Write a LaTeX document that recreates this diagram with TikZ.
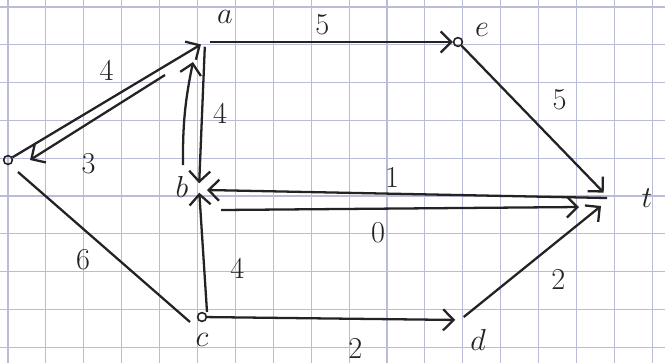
\documentclass[tikz,border=0pt]{standalone}
\usepackage{amsmath,amssymb}
\usepackage{xcolor}
\usepackage{tikz}
\usetikzlibrary{arrows.meta,positioning,calc}

\definecolor{paperline}{RGB}{184,188,216}
\definecolor{pen}{RGB}{35,35,35}

\begin{document}
\begin{tikzpicture}[x=0.02cm, y=-0.02cm,
    vtx/.style={circle, inner sep=0pt, minimum size=5pt},
    dot/.style={vtx, draw=pen, line width=0.9pt},
    edge/.style={line width=1.3pt, pen, -{Straight Barb[length=6pt,width=12pt]}},
    plain/.style={line width=1.3pt, pen},
    lbl/.style={font=\LARGE, text=pen, inner sep=1pt}]
  \useasboundingbox (0,0) rectangle (665,363);
  \fill[white] (0,0) rectangle (665,363);

  % Grid paper
  \foreach \i in {0,...,17}
    \draw[paperline, line width=0.6pt] ({8+37.9*\i},0) -- ({8+37.9*\i},363);
  \foreach \j in {0,...,9}
    \draw[paperline, line width=0.6pt] (0,{7+37.8*\j}) -- (665,{7+37.8*\j});

  % Vertices
  \node[dot] (s) at (8,160) {};
  \node[vtx] (a) at (205,42) {};
  \node[dot] (e) at (458,42) {};
  \node[vtx] (b) at (199,188) {};
  \node[vtx] (t) at (607,196) {};
  \node[dot] (c) at (202,317) {};
  \node[vtx] (d) at (460,320) {};

  % Vertex names
  \node[lbl] at ([shift={(20,-25)}]a) {$a$};
  \node[lbl] at ([shift={(24,-12)}]e) {$e$};
  \node[lbl] at ([shift={(-17,-1)}]b) {$b$};
  \node[lbl] at ([shift={(40,2)}]t) {$t$};
  \node[lbl] at ([shift={(0,23)}]c) {$c$};
  \node[lbl] at ([shift={(18,20)}]d) {$d$};

  % Edges
  \draw[edge] (s) -- (a) node[lbl, pos=.5, shift={(0,-31)}] {4};
  \draw[edge] ([shift={(-40,33)}]a.center) -- ([shift={(22,0)}]s.center)
    node[lbl, pos=.9, shift={(45,12)}] {3};
  \draw[edge] (a) -- (b) node[lbl, pos=.5, shift={(18,-2)}] {4};
  \draw[edge] ([shift={(-16,-23)}]b.center) to[bend left=6] ([shift={(-12,20)}]a.center)
    node[lbl, pos=.5, shift={(-18,10)}] {3};
  \draw[edge] (a) -- (e) node[lbl, pos=.5, shift={(-9,-17)}] {5};
  \draw[edge] (e) -- (t) node[lbl, pos=.5, shift={(27,-19)}] {5};
  \draw[edge] ([shift={(0,2)}]t.center) -- ([shift={(8,2)}]b.center)
    node[lbl, pos=.5, shift={(-15,-17)}] {1};
  \draw[edge] ([shift={(22,22)}]b.center) -- ([shift={(-28,11)}]t.center)
    node[lbl, pos=.5, shift={(-22,24)}] {0};
  \draw[edge] ([shift={(5,-5)}]c.center) -- (b) node[lbl, pos=.35, shift={(33,-2)}] {4};
  \draw[plain] ([shift={(10,12)}]s.center) -- ([shift={(-12,5)}]c.center)
    node[lbl, pos=.5, shift={(-21,13)}] {6};
  \draw[edge] (c) -- (d) node[lbl, pos=.5, shift={(24,30)}] {2};
  \draw[edge] (d) -- ([shift={(-6,10)}]t.center) node[lbl, pos=.5, shift={(26,18)}] {2};
\end{tikzpicture}
\end{document}
